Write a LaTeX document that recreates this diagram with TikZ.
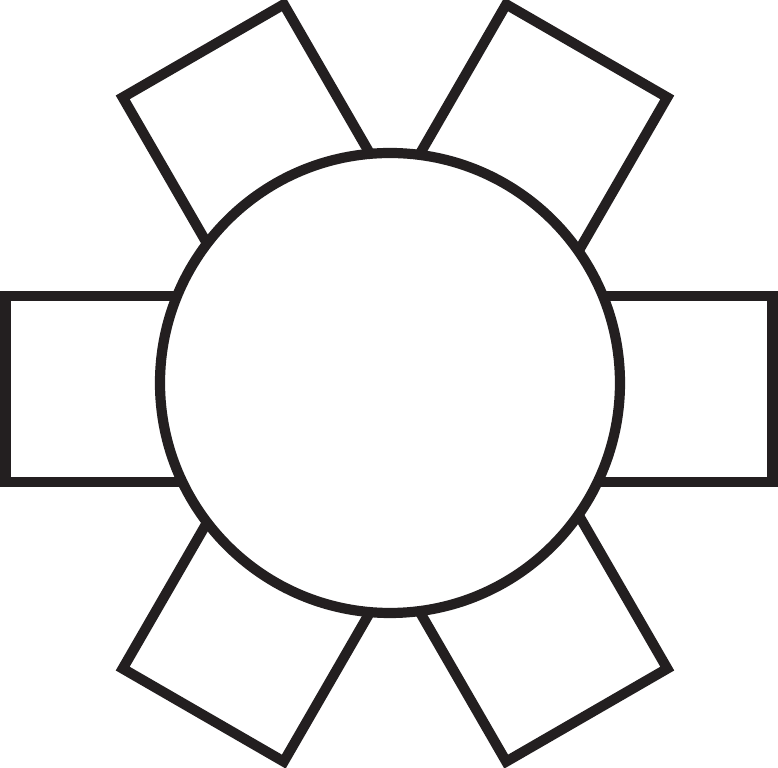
\documentclass[tikz,border=0pt]{standalone}
\usepackage{tikz}
\usetikzlibrary{calc,positioning}

\definecolor{ink}{HTML}{231F20}

\begin{document}
\begin{tikzpicture}[
  blade/.style={draw=ink, line width=2.9pt, fill=white, inner sep=0pt,
                minimum width=2.40cm, minimum height=1.86cm, miter limit=10},
  hub/.style={draw=ink, line width=2.9pt, fill=white, circle, inner sep=0pt,
              minimum size=4.60cm}
]
\useasboundingbox (-3.90,-3.85) rectangle (3.88,3.83);

% six blades round the hub, every 60 degrees
\foreach \a/\dx/\dy in {0/-0.01/-0.06, 60/0.05/0, 120/0.05/0, 180/-0.01/-0.06, 240/0.05/0, 300/0.05/0} {
  \node[blade, rotate=\a] (blade-\a) at ($(\a:2.635)+(\dx,\dy)$) {};
}

\node[hub] (hub) at (0,0) {};
\end{tikzpicture}
\end{document}
